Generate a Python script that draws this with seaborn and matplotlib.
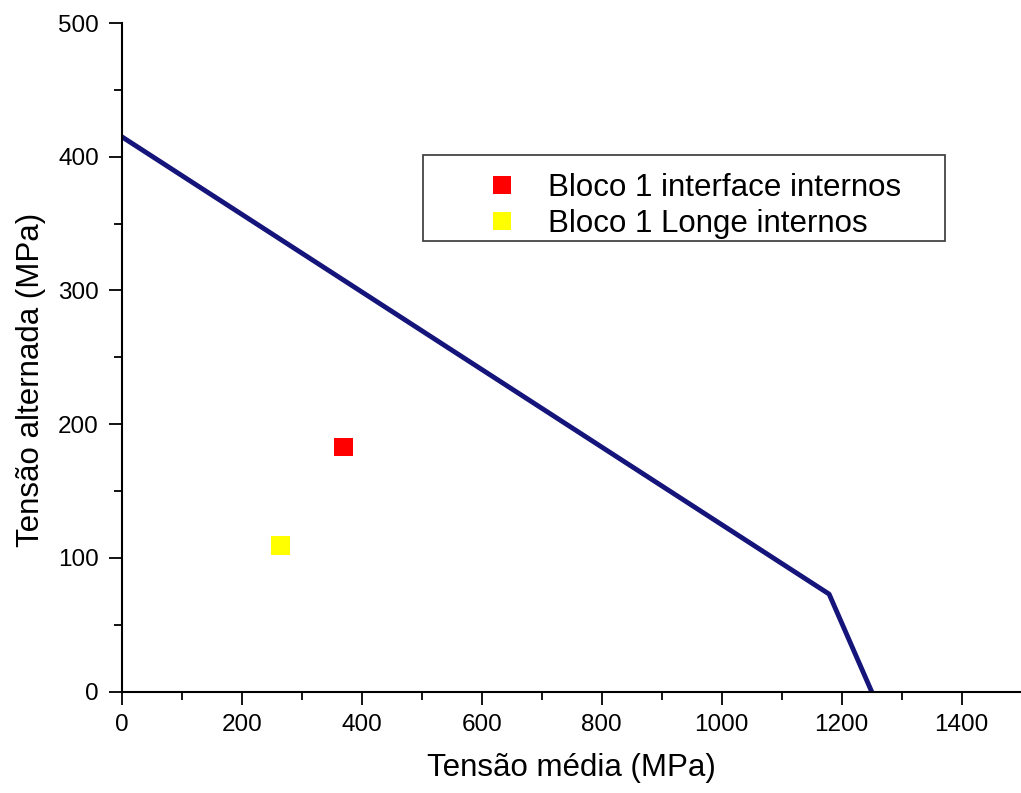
import matplotlib
matplotlib.use("Agg")
import matplotlib.pyplot as plt
import seaborn as sns
import pandas as pd
from matplotlib.ticker import MultipleLocator

# Goodman-type limit line (mean stress vs. alternating stress)
limit_mean = [0, 1179, 1250]
limit_alt = [415, 73, 0]

# Measured stress states
series_names = ["Bloco 1 interface internos", "Bloco 1 Longe internos"]
point_mean = [369, 264]
point_alt = [183, 109]
point_colors = ["#ff0000", "#ffff00"]

line_df = pd.DataFrame({"media": limit_mean, "alternada": limit_alt})
pts_df = pd.DataFrame({"media": point_mean, "alternada": point_alt, "serie": series_names})

sns.set_style("ticks")
plt.rcParams["font.family"] = ["Liberation Sans", "DejaVu Sans"]
plt.rcParams["text.color"] = "black"
plt.rcParams["axes.labelcolor"] = "black"

W, H = 1021, 793
fig = plt.figure(figsize=(W / 100, H / 100), dpi=100)
ax = fig.add_axes([121.7 / W, 1 - 691.7 / H, (1021.7 - 121.7) / W, (691.7 - 23) / H])

sns.lineplot(data=line_df, x="media", y="alternada", ax=ax, color="#14147a",
             linewidth=3.5, sort=False, legend=False, zorder=2)
sns.scatterplot(data=pts_df, x="media", y="alternada", hue="serie",
                palette=dict(zip(series_names, point_colors)), marker="s",
                s=185, linewidth=0, ax=ax, zorder=3)

ax.set_xlim(0, 1500)
ax.set_ylim(0, 500)
ax.xaxis.set_major_locator(MultipleLocator(200))
ax.xaxis.set_minor_locator(MultipleLocator(100))
ax.yaxis.set_major_locator(MultipleLocator(100))
ax.yaxis.set_minor_locator(MultipleLocator(50))
ax.tick_params(which="major", length=9.4, width=1.3, direction="out",
               labelsize=17.5, pad=7, colors="black")
ax.tick_params(which="minor", length=5.6, width=1.3, direction="out", colors="black")
for side in ("top", "right"):
    ax.spines[side].set_visible(False)
for side in ("left", "bottom"):
    ax.spines[side].set_linewidth(1.5)
    ax.spines[side].set_color("black")

ax.set_xlabel("Tensão média (MPa)", fontsize=22.5, labelpad=12)
ax.set_ylabel("Tensão alternada (MPa)", fontsize=22.5)
ax.yaxis.set_label_coords(-0.084, 0.4665)

handles, labels = ax.get_legend_handles_labels()
leg = ax.legend(handles, labels, loc="upper left",
                bbox_to_anchor=(423 / W, 1 - 239 / H, (945 - 423) / W, (239 - 155) / H),
                bbox_transform=fig.transFigure, mode="expand",
                title=" ", title_fontsize=7,
                fontsize=22.5, frameon=True, fancybox=False, framealpha=1,
                edgecolor="#444444", borderpad=0.05, labelspacing=0.2,
                handlelength=4.95, handletextpad=-1.0, borderaxespad=0,
                markerscale=0.95)
leg.get_frame().set_linewidth(1.3)

fig.savefig("out.png", dpi=100, facecolor="white")
